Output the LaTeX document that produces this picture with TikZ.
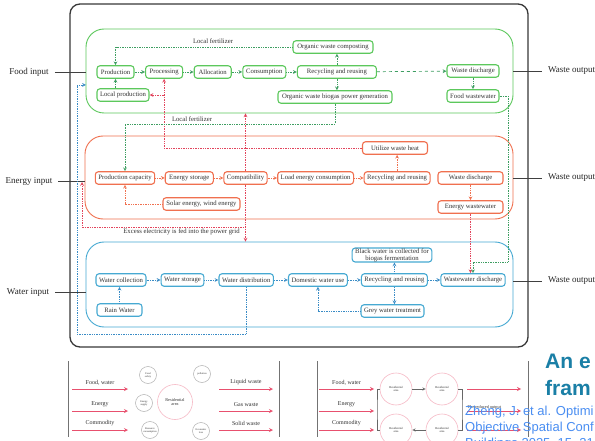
\documentclass[tikz,border=0pt]{standalone}
\usepackage{fontspec}
\setmainfont{Liberation Serif}
\newfontfamily\slidefont{Liberation Sans}
\usepackage{tikz}
\usetikzlibrary{positioning}
\usetikzlibrary{calc}

\definecolor{foodgreen}{HTML}{5CC85C}
\definecolor{fertgreen}{HTML}{3E9E62}
\definecolor{energyred}{HTML}{F0704F}
\definecolor{heatred}{HTML}{E2445C}
\definecolor{waterblue}{HTML}{46A9D2}
\definecolor{flowblue}{HTML}{3A8CC6}
\definecolor{titleteal}{HTML}{1A7FA6}
\definecolor{citeblue}{HTML}{4A8EF2}
\definecolor{wastepink}{HTML}{E8506E}

\begin{document}
\begin{tikzpicture}[x=1pt, y=-1pt, >=stealth, node distance=10.5pt,
    every node/.style={text=black!80, font=\fontsize{6.7}{7.4}\selectfont},
    sysbox/.style={draw, rounded corners=18pt, line width=0.9pt},
    foodbox/.style={draw=foodgreen, fill=white, rounded corners=3pt, line width=1.1pt, minimum height=12.5pt, inner xsep=3pt, inner ysep=1pt},
    energybox/.style={foodbox, draw=energyred},
    waterbox/.style={foodbox, draw=waterblue},
    gline/.style={densely dotted, draw=fertgreen, line width=0.7pt},
    gdash/.style={dashed, draw=fertgreen, line width=0.7pt},
    rline/.style={densely dotted, draw=heatred, line width=0.7pt},
    oline/.style={densely dotted, draw=energyred, line width=0.7pt},
    bline/.style={densely dotted, draw=flowblue, line width=0.7pt},
    sidelabel/.style={font=\fontsize{9}{10}\selectfont, text=black!85, inner xsep=6pt},
    sideline/.style={draw=black!75, line width=0.8pt},
    wastearrow/.style={->, draw=wastepink, line width=0.8pt},
    panelbar/.style={draw=black!55, line width=0.9pt},
    smallcirc/.style={circle, draw=black!30, line width=0.5pt, minimum size=17pt, inner sep=0pt, align=center, font=\fontsize{2.6}{2.9}\selectfont},
    rescirc/.style={circle, draw=wastepink!40, line width=0.6pt, inner sep=0pt, align=center},
    paneltext/.style={font=\fontsize{6}{7}\selectfont}
]
\useasboundingbox (0,0) rectangle (595,441);
\fill[white] (0,0) rectangle (595,441);
\clip (0,0) rectangle (595,441);

% frame and subsystems
\draw[draw=black!78, line width=1.3pt, rounded corners=10pt] (70,4) rectangle (528,347);
\node[sysbox, draw=foodgreen, minimum width=427pt, minimum height=84pt] (foodsys) at (299.5,71) {};
\node[sysbox, draw=energyred, minimum width=428pt, minimum height=83pt] (energysys) at (299,177.5) {};
\node[sysbox, draw=waterblue, minimum width=427pt, minimum height=85pt] (watersys) at (299.5,284.5) {};

\node[sidelabel] (foodin) at (29,72) {Food input};
\node[sidelabel] (energyin) at (29,181) {Energy input};
\node[sidelabel] (waterin) at (28,292) {Water input};
\node[sidelabel, anchor=west] (foodout) at (542,71) {Waste output};
\node[sidelabel, anchor=west] (energyout) at (542,178) {Waste output};
\node[sidelabel, anchor=west] (waterout) at (542,281) {Waste output};
\draw[sideline] (foodin) -- (foodin -| foodsys.west);
\draw[sideline] (energyin) -- (energyin -| energysys.west);
\draw[sideline] (waterin) -- (waterin -| watersys.west);
\draw[sideline] (foodsys.east |- foodout) -- (foodout);
\draw[sideline] (energysys.east |- energyout) -- (energyout);
\draw[sideline] (watersys.east |- waterout) -- (waterout);

% food
\node[foodbox, minimum width=37pt] (prod) at (115.5,72) {Production};
\node[foodbox, minimum width=37pt, right=of prod] (proc) {Processing};
\node[foodbox, minimum width=37pt, right=of proc] (alloc) {Allocation};
\node[foodbox, minimum width=43pt, right=of alloc] (cons) {Consumption};
\node[foodbox, minimum width=79pt, right=of cons] (recfood) {Recycling and reusing};
\node[foodbox, minimum width=80pt] (compost) at (333,47) {Organic waste composting};
\node[foodbox, minimum width=114pt] (biogas) at (335,97) {Organic waste biogas power generation};
\node[foodbox, minimum width=52pt] (wdisfood) at (473,71) {Waste discharge};
\node[foodbox, minimum width=52pt] (foodww) at (473,96) {Food wastewater};
\node[foodbox, minimum width=52pt] (localprod) at (123,95) {Local production};

\foreach \a/\b in {prod/proc, proc/alloc, alloc/cons, cons/recfood}
    \draw[gline,->] (\a) -- (\b);
\draw[gline,->] (compost) -| (prod);
\node at (213,41) {Local fertilizer};
\draw[gline,->] (recfood.north) -- (recfood.north |- compost.south);
\draw[gline,->] (recfood.south) -- (recfood.south |- biogas.north);
\draw[gdash,->] (recfood) -- (wdisfood);
\draw[gline,->] (wdisfood) -- (foodww);
\draw[gline,->] (localprod.north -| prod) -- (prod);

% energy
\node[energybox] (pcap) at (125,178) {Production capacity};
\node[energybox, minimum width=48pt, right=9.5pt of pcap] (estor) {Energy storage};
\node[energybox, right=9.5pt of estor] (compat) {Compatibility};
\node[energybox, right=9.5pt of compat] (load) {Load energy consumption};
\node[energybox, right=9.5pt of load] (recenergy) {Recycling and reusing};
\node[energybox, minimum width=65pt] (wdisenergy) at (470.5,178) {Waste discharge};
\node[energybox, minimum width=65pt] (energyww) at (470.5,207) {Energy wastewater};
\node[energybox, minimum width=65pt] (heat) at (395,148) {Utilize waste heat};
\node[energybox, minimum width=77pt] (solar) at (201.5,204) {Solar energy, wind energy};

\foreach \a/\b in {pcap/estor, estor/compat, compat/load, load/recenergy}
    \draw[oline,->] (\a) -- (\b);
\draw[oline,->] (solar) -| (pcap);
\draw[oline,->] (recenergy.north) -- (recenergy.north |- heat.south);
\draw[oline,->] (wdisenergy) -- (energyww);

\draw[rline,->] (heat) -| (proc);
\draw[rline,->] (proc |- localprod) -- (localprod);
\draw[rline,->] (compat) -- (compat |- foodsys.south);
\draw[rline,->] (compat) -- (compat |- watersys.north);
\coordinate (gridbend) at (82,227);
\coordinate (gridend) at (82,182);
\draw[rline,->] (compat |- gridbend) -- (gridbend) -- (gridend);
\node at (181.5,232) {Excess electricity is fed into the power grid};

\coordinate (fertbend) at (335,124);
\draw[gline,->] (biogas) -- (fertbend) -| (pcap);
\node at (192,119) {Local fertilizer};

% water
\node[waterbox, minimum width=48pt] (wcol) at (121,280) {Water collection};
\node[waterbox, right=14pt of wcol] (wsto) {Water storage};
\node[waterbox, right=14pt of wsto] (wdist) {Water distribution};
\node[waterbox, right=14pt of wdist] (dom) {Domestic water use};
\node[waterbox, right=13pt of dom] (recwater) {Recycling and reusing};
\node[waterbox] (waterww) at (473,280) {Wastewater discharge};
\node[waterbox, minimum width=45pt] (rain) at (119.5,310) {Rain Water};
\node[waterbox, align=center, font=\fontsize{6.7}{6.8}\selectfont, inner ysep=0.5pt] (blackw) at (392,255) {Black water is collected for\\biogas fermentation};
\node[waterbox] (greyw) at (392.5,311) {Grey water treatment};

\foreach \a/\b in {wcol/wsto, wsto/wdist, wdist/dom, dom/recwater, recwater/waterww}
    \draw[bline,->] (\a) -- (\b);
\draw[bline,->] (rain.north) -- (rain.north |- wcol.south);
\draw[bline,->] (recwater.north) -- (recwater.north |- blackw.south);
\draw[bline,->] (recwater.south) -- (recwater.south |- greyw.north);
\draw[bline,->] (greyw) -| (dom);
\coordinate (loopbend) at (77,334);
\coordinate (loopend) at (86,85);
\draw[bline,->] (wdist) |- (loopbend) |- (loopend);

\draw[rline,->] (energyww) -- (energyww |- waterww.north);
\coordinate (fwwbend) at (508,262);
\draw[gline,->] (foodww) -| (fwwbend) -| (waterww);

% lower panels
\draw[panelbar] (68,361) -- (68,437);
\draw[panelbar] (279,361) -- (279,437);
\foreach \lab/\yy [count=\i] in {{Food, water}/389, Energy/411, Commodity/430} {
    \coordinate (fromL\i) at (72,\yy);
    \coordinate (toL\i) at (128,\yy);
    \draw[wastearrow] (fromL\i) -- (toL\i) node[midway, above=0.3pt, paneltext] {\lab};
}
\foreach \lab/\yy [count=\i] in {Liquid waste/389, Gas waste/411, Solid waste/430} {
    \coordinate (fromR\i) at (219,\yy);
    \coordinate (toR\i) at (273,\yy);
    \draw[wastearrow] (fromR\i) -- (toR\i) node[midway, above=0.3pt, paneltext] {\lab};
}
\node[rescirc, minimum size=35pt, font=\fontsize{4.3}{4.8}\selectfont] (resL) at (175,402) {Residential\\area};
\node[smallcirc] (safety) at (148,375) {Food\\safety};
\node[smallcirc] (pollute) at (202,374) {pollution};
\node[smallcirc] (esupply) at (144,403) {Energy\\supply};
\node[smallcirc] (rescons) at (150,430) {Resource\\consumption};
\node[smallcirc] (econ) at (201,431) {Economic\\loss};

\draw[panelbar] (317,361) -- (317,437);
\draw[panelbar] (528,361) -- (528,437);
\foreach \lab/\yy [count=\i] in {{Food, water}/389, Energy/411, Commodity/430} {
    \coordinate (fromM\i) at (319,\yy);
    \coordinate (toM\i) at (374,\yy);
    \draw[wastearrow] (fromM\i) -- (toM\i) node[midway, above=0.3pt, paneltext] {\lab};
}
\node[rescirc, minimum size=32pt, font=\fontsize{3}{3.4}\selectfont] (resA) at (396,389) {Residential\\area};
\node[rescirc, minimum size=32pt, font=\fontsize{3}{3.4}\selectfont] (resB) at (442,389) {Residential\\area};
\node[rescirc, minimum size=32pt, font=\fontsize{3}{3.4}\selectfont] (resC) at (396,430) {Residential\\area};
\node[rescirc, minimum size=32pt, font=\fontsize{3}{3.4}\selectfont] (resD) at (442,430) {Residential\\area};
\draw[->, draw=black!60, line width=0.5pt] (resA) -- (resB);
\draw[->, draw=black!60, line width=0.5pt] (resD) -- (resC);
\coordinate (brackL) at (377,409.5);
\coordinate (brackR) at (462,409.5);
\draw[draw=black!60, line width=0.5pt] (resA) -| (brackL) |- (resC);
\draw[draw=black!60, line width=0.5pt] (resB) -| (brackR) |- (resD);
\foreach \yy [count=\i] in {389, 411, 430} {
    \coordinate (fromO\i) at (467,\yy);
    \coordinate (toO\i) at (521,\yy);
    \draw[wastearrow] (fromO\i) -- (toO\i);
}
\node[anchor=west, font=\fontsize{4.3}{5}\selectfont] (reduced) at (464,407) {The reduced output};

% slide text
\node[anchor=base west, inner sep=0pt, text=titleteal, font=\slidefont\bfseries\fontsize{21}{21}\selectfont] (title1) at (545,368) {An e};
\node[anchor=base west, inner sep=0pt, text=titleteal, font=\slidefont\bfseries\fontsize{21}{21}\selectfont] (title2) at (545,395) {fram};
\node[anchor=base west, inner sep=0pt, text=citeblue, font=\slidefont\fontsize{13}{14}\selectfont] (cite1) at (465,415) {Zheng, J. et al. Optimi};
\node[anchor=base west, inner sep=0pt, text=citeblue, font=\slidefont\fontsize{13}{14}\selectfont] (cite2) at (465,431) {Objective Spatial Conf};
\node[anchor=base west, inner sep=0pt, text=citeblue, font=\slidefont\fontsize{13}{14}\selectfont] (cite3) at (465,447) {Buildings 2025, 15, 21};
\end{tikzpicture}
\end{document}
